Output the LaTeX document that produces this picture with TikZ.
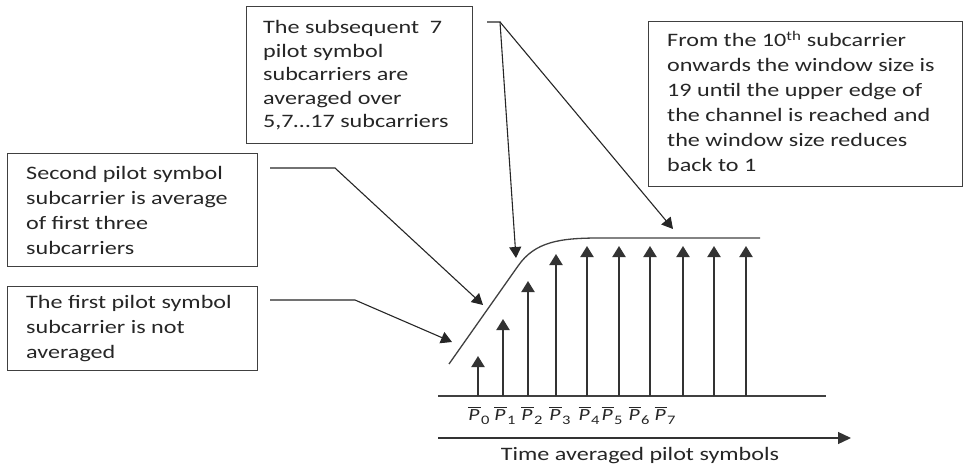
\documentclass[tikz,border=0pt]{standalone}
\usepackage{fontspec}
\setmainfont{Carlito}[FakeStretch=1.27]
\usetikzlibrary{arrows.meta}
\newcommand\pbarlbl[1]{$\overline{\mbox{\itshape P\kern1pt}}$\kern0.5pt\raisebox{-4pt}{\fontsize{13}{13}\selectfont #1}}
\begin{document}
\begin{tikzpicture}[x=1pt,y=-1pt,
  box/.style={draw=black!75, line width=1.3pt, anchor=north west, inner sep=0pt},
  txt/.style={anchor=west, inner sep=0pt, align=left, text=black!85, font=\fontsize{19}{25}\selectfont},
  conn/.style={line width=1.1pt, draw=black!85, -{Triangle[width=12pt,length=11pt]}},
  stem/.style={line width=2pt, draw=black!80, -{Triangle[width=13pt,length=11pt]}},
  plain/.style={line width=1.3pt, draw=black!75},
  lbl/.style={font=\fontsize{17}{17}\selectfont, inner sep=0pt, anchor=base, text=black!85}]
\useasboundingbox (0,0) rectangle (965,468);

% boxes
\node[box, minimum width=226pt, minimum height=137pt] (bT) at (246,6) {};
\node[txt, font=\fontsize{19}{23.5}\selectfont] (tT) at ([xshift=17pt]bT.west)
  {The subsequent\ \ 7\\pilot symbol\\subcarriers are\\averaged over\\5,7\ldots17 subcarriers};

\node[box, minimum width=314pt, minimum height=165pt] (bR) at (648,21) {};
\node[txt] (tR) at ([xshift=19pt,yshift=3pt]bR.west)
  {From the 10\textsuperscript{th} subcarrier\\onwards the window size is\\19 until the upper edge of\\the channel is reached and\\the window size reduces\\back to 1};

\node[box, minimum width=250pt, minimum height=113pt] (bS) at (7,153) {};
\node[txt] (tS) at ([xshift=19pt]bS.west)
  {Second pilot symbol\\subcarrier is average\\of first three\\subcarriers};

\node[box, minimum width=250pt, minimum height=84pt] (bF) at (7,286) {};
\node[txt] (tF) at ([xshift=19pt]bF.west)
  {The first pilot symbol\\subcarrier is not\\averaged};

% curve
\coordinate (c0) at (449,364);
\coordinate (c1) at (518,266);
\coordinate (c2) at (600,238);
\coordinate (c3) at (760,238);
\draw[plain] (c0) -- (c1) .. controls (535,241.5) and (560,238) .. (c2) -- (c3);

% baseline and time axis
\coordinate (bl0) at (438,396);
\coordinate (bl1) at (826,396);
\draw[plain] (bl0) -- (bl1);
\coordinate (ta0) at (438,438);
\coordinate (ta1) at (851,438);
\draw[line width=1.3pt, draw=black!80, -{Triangle[width=12pt,length=13pt]}] (ta0) -- (ta1);
\node[lbl, font=\fontsize{19}{19}\selectfont] (tl) at (640,460) {Time averaged pilot symbols};

% stems
\foreach \i/\x/\t in {0/478/356, 1/503/319, 2/528/281, 3/556/254, 4/587/246,
                      5/619/246, 6/650/246, 7/683/246, 8/714/246, 9/746/246} {
  \coordinate (s\i) at (\x,396);
  \coordinate (e\i) at (\x,\t);
  \draw[stem] (s\i) -- (e\i);
}

% labels
\foreach \i/\x in {0/479, 1/505, 2/532, 3/560, 4/589, 5/612, 6/639, 7/665} {
  \node[lbl] (p\i) at (\x,420) {\pbarlbl{\i}};
}

% connectors
\coordinate (aS0) at (270,168);
\coordinate (aS1) at (335,168);
\coordinate (aSt) at (483,305);
\draw[conn] (aS0) -- (aS1) -- (aSt);

\coordinate (aF0) at (270,300);
\coordinate (aF1) at (355,300);
\coordinate (aFt) at (452,342);
\draw[conn] (aF0) -- (aF1) -- (aFt);

\coordinate (aT0) at (487,22);
\coordinate (aT1) at (500,22);
\coordinate (aTt1) at (516,258);
\coordinate (aTt2) at (673,229);
\draw[conn] (aT0) -- (aT1) -- (aTt1);
\draw[conn] (aT1) -- (aTt2);
\end{tikzpicture}
\end{document}
